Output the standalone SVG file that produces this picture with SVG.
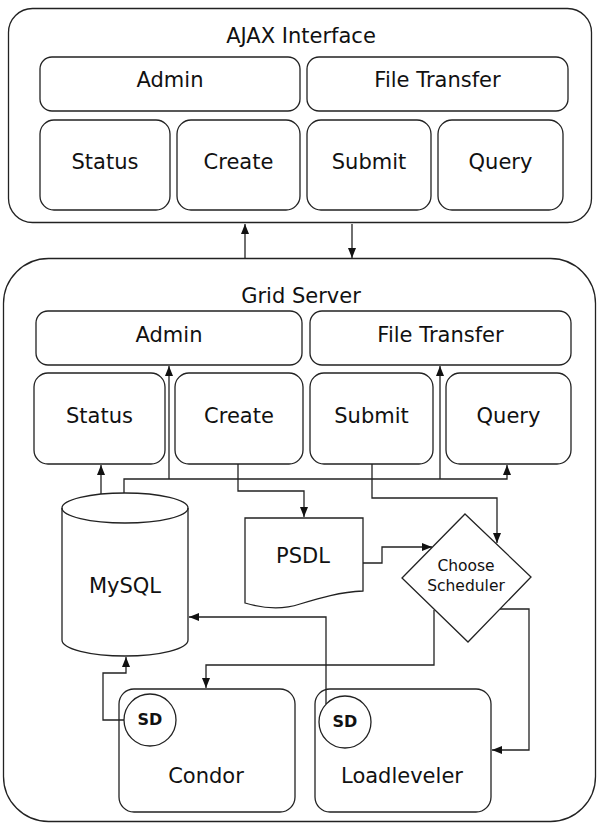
<svg xmlns="http://www.w3.org/2000/svg" width="598" height="825" viewBox="0 0 598 825">
<defs>
<marker id="ah" markerUnits="userSpaceOnUse" markerWidth="10" markerHeight="8" viewBox="0 0 10 8" refX="10" refY="4" orient="auto">
<path d="M0,0 L10,4 L0,8 Z" fill="#111"/>
</marker>
</defs>
<style>
.box{fill:#fff;stroke:#222;stroke-width:1.3}
.t{font-family:"DejaVu Sans",Verdana,sans-serif;font-size:21px;fill:#111;text-anchor:middle}
.s{font-family:"DejaVu Sans",Verdana,sans-serif;font-size:15.5px;fill:#111;text-anchor:middle}
.b{font-family:"DejaVu Sans",Verdana,sans-serif;font-size:16px;font-weight:bold;fill:#111;text-anchor:middle}
.c{fill:none;stroke:#222;stroke-width:1.3}
.a{fill:none;stroke:#222;stroke-width:1.3;marker-end:url(#ah)}
</style>
<rect width="598" height="825" fill="#fff"/>

<g id="ajax">
<rect class="box" x="8.5" y="8.5" width="583" height="214" rx="24"/>
<text class="t" x="301" y="43">AJAX Interface</text>
</g>
<g id="ajax-admin"><rect class="box" x="40" y="57" width="260" height="54" rx="12"/><text class="t" x="170" y="87">Admin</text></g>
<g id="ajax-filetransfer"><rect class="box" x="307" y="57" width="261" height="54" rx="12"/><text class="t" x="437.5" y="87">File Transfer</text></g>
<g id="ajax-status"><rect class="box" x="40" y="120" width="130" height="90" rx="14"/><text class="t" x="105" y="169">Status</text></g>
<g id="ajax-create"><rect class="box" x="177" y="120" width="123" height="90" rx="14"/><text class="t" x="238.5" y="169">Create</text></g>
<g id="ajax-submit"><rect class="box" x="307" y="120" width="124" height="90" rx="14"/><text class="t" x="369" y="169">Submit</text></g>
<g id="ajax-query"><rect class="box" x="438" y="120" width="125" height="90" rx="14"/><text class="t" x="500.5" y="169">Query</text></g>

<g id="grid">
<rect class="box" x="3.5" y="258.5" width="592" height="563" rx="45"/>
<text class="t" x="301" y="303">Grid Server</text>
</g>
<g id="grid-admin"><rect class="box" x="36" y="311" width="266" height="54" rx="12"/><text class="t" x="169" y="342">Admin</text></g>
<g id="grid-filetransfer"><rect class="box" x="310" y="311" width="261" height="54" rx="12"/><text class="t" x="440.5" y="342">File Transfer</text></g>
<g id="grid-status"><rect class="box" x="34" y="373" width="131" height="91" rx="14"/><text class="t" x="99.5" y="423">Status</text></g>
<g id="grid-create"><rect class="box" x="175" y="373" width="128" height="91" rx="14"/><text class="t" x="239" y="423">Create</text></g>
<g id="grid-submit"><rect class="box" x="310" y="373" width="123" height="91" rx="14"/><text class="t" x="371.5" y="423">Submit</text></g>
<g id="grid-query"><rect class="box" x="446" y="373" width="125" height="91" rx="14"/><text class="t" x="508.5" y="423">Query</text></g>

<g id="mysql">
<path class="box" d="M62,508 V640 A63,16 0 0 0 188,640 V508 A63,15 0 0 0 62,508 Z"/>
<path class="c" d="M62,508 A63,15 0 0 0 188,508"/>
<text class="t" x="125" y="593">MySQL</text>
</g>

<g id="psdl">
<path class="box" d="M245,518 H363 V591 C340,592 320,598 300,604 C282,610 265,609 245,603 Z"/>
<text class="t" x="303" y="563">PSDL</text>
</g>

<g id="scheduler">
<path class="box" d="M465,514 L531,577 L468,642 L402,578 Z"/>
<text class="s" x="466" y="571">Choose</text>
<text class="s" x="466" y="591">Scheduler</text>
</g>

<g id="condor">
<rect class="box" x="119" y="689" width="176" height="123" rx="15"/>
<circle class="box" cx="150" cy="720" r="26"/>
<text class="b" x="150" y="725">SD</text>
<text class="t" x="206" y="783">Condor</text>
</g>

<g id="loadleveler">
<rect class="box" x="315" y="689" width="176" height="123" rx="15"/>
<circle class="box" cx="345" cy="722" r="26"/>
<text class="b" x="345" y="727">SD</text>
<text class="t" x="402" y="783">Loadleveler</text>
</g>

<g id="connectors">
<path class="a" d="M245,258 V224"/>
<path class="a" d="M352,224 V258"/>
<path class="a" d="M124,493 V479 H507 V465"/>
<path class="a" d="M169,479 V366"/>
<path class="a" d="M440,479 V366"/>
<path class="a" d="M101,494 V465"/>
<path class="a" d="M238,464 V491 H304 V517"/>
<path class="a" d="M372,464 V498 H497 V543"/>
<path class="a" d="M363,563 H382 V547 H432"/>
<path class="a" d="M434,610 V665 H206 V688"/>
<path class="a" d="M500,609 H529 V750 H492"/>
<path class="a" d="M124,720 H103 V673 H126 V657"/>
<path class="a" d="M326,704 V617 H189"/>
</g>
</svg>
